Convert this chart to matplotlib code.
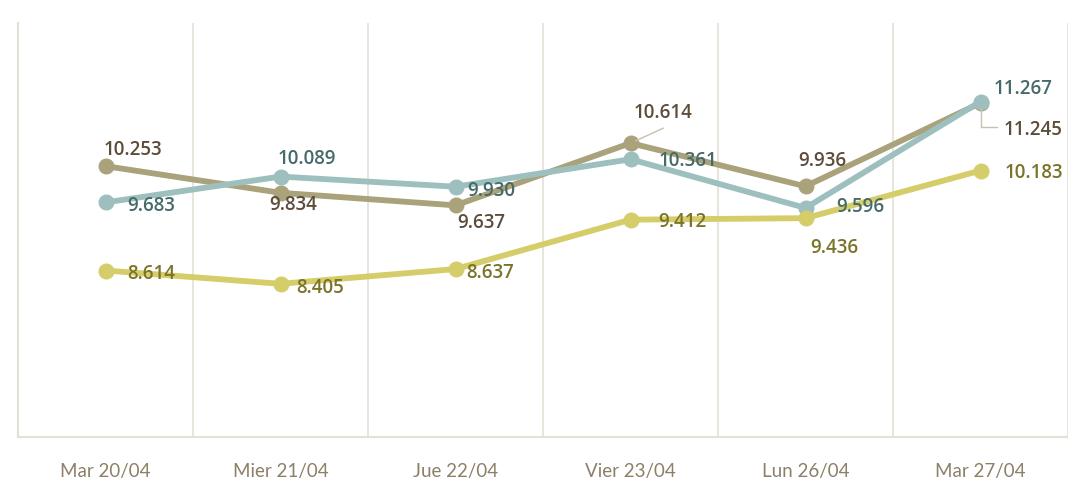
import matplotlib
matplotlib.use("Agg")
import matplotlib.pyplot as plt

dias = ["Mar 20/04", "Mier 21/04", "Jue 22/04", "Vier 23/04", "Lun 26/04", "Mar 27/04"]
serie_a = [10.253, 9.834, 9.637, 10.614, 9.936, 11.245]   # marron
serie_b = [9.683, 10.089, 9.930, 10.361, 9.596, 11.267]   # celeste
serie_c = [8.614, 8.405, 8.637, 9.412, 9.436, 10.183]     # amarillo

# desplazamiento de etiquetas (pixeles) para cada punto
off_a = [(27, 16), (13, -12), (26, -18), (33, 30), (17, 25), (53, -27)]
off_b = [(46, -4), (26, 18), (36, -4), (57, -2), (55, 1), (43, 13)]
off_c = [(46, -3), (40, -4), (35, -4), (52, -2), (29, -30), (53, -2)]

GRID = "#E4E0D5"
estilos = [
    (serie_a, off_a, "#A9A27B", "#5E4C3B"),
    (serie_b, off_b, "#9DC0BE", "#466A69"),
    (serie_c, off_c, "#D5CD6A", "#7A7428"),
]

fig = plt.figure(figsize=(10.68, 4.92), dpi=100)
ax = fig.add_axes([18 / 1068, 55 / 492, 1 - 18 / 1068, (437 - 23) / 492])
x = list(range(len(dias)))

for vals, offs, col, tcol in estilos:
    ax.plot(x, vals, color=col, lw=4.2, marker="o", ms=10.5, zorder=3, solid_capstyle="round")

for vals, offs, col, tcol in estilos:
    for xi, v, (dx, dy) in zip(x, vals, offs):
        ax.annotate(f"{v:.3f}", (xi, v), xytext=(dx, dy), textcoords="offset pixels",
                    ha="center", va="center", color=tcol, fontsize=13.5, fontweight="semibold",
                    family="Open Sans", zorder=4)

# lineas guia
ax.annotate("", (3, serie_a[3]), xytext=(33, 15), textcoords="offset pixels",
            arrowprops=dict(arrowstyle="-", color="#C9C0AE", lw=1, shrinkA=0, shrinkB=4))
ax.annotate("", (5, serie_a[5]), xytext=(16, -24), textcoords="offset pixels",
            arrowprops=dict(arrowstyle="-", color="#C9C0AE", lw=1, shrinkA=0, shrinkB=4,
                            connectionstyle="angle,angleA=0,angleB=90,rad=0"))

ax.set_xlim(-0.5, 5.5)
ax.set_ylim(6, 12.5)
ax.set_xticks(x)
ax.set_xticklabels(dias, color="#8C8068", fontsize=13.5, family="Lato")
ax.set_xticks([i - 0.5 for i in range(len(dias) + 1)], minor=True)
ax.tick_params(axis="x", which="both", length=0, pad=19)
ax.set_yticks([])
ax.grid(axis="x", which="minor", color=GRID, lw=1.2)
for s in ["top", "right"]:
    ax.spines[s].set_visible(False)
for s in ["left", "bottom"]:
    ax.spines[s].set_color(GRID)
    ax.spines[s].set_linewidth(1.5)

fig.savefig("out.png", dpi=100)
